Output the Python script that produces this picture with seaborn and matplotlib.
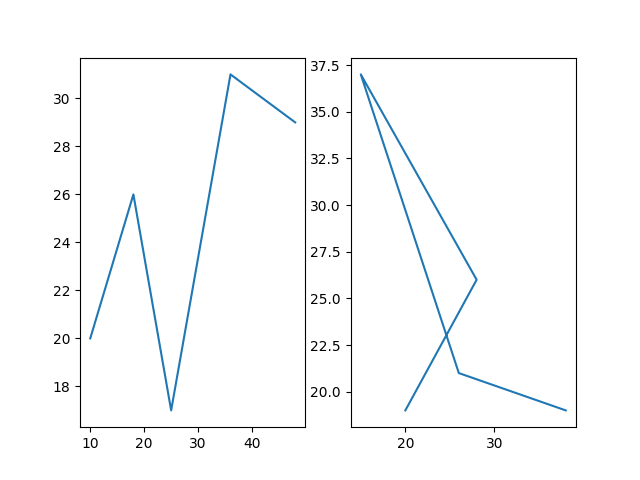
import matplotlib
matplotlib.use("Agg")
import matplotlib.pyplot as plt
import seaborn as sns

# left panel
left_x = [10, 18, 25, 36, 48]
left_y = [20, 26, 17, 31, 29]

# right panel (drawn in given order, not sorted)
right_x = [20, 28, 15, 26, 38]
right_y = [19, 26, 37, 21, 19]

fig, (ax1, ax2) = plt.subplots(1, 2, figsize=(6.4, 4.8), dpi=100)

sns.lineplot(x=left_x, y=left_y, sort=False, estimator=None, ax=ax1)
sns.lineplot(x=right_x, y=right_y, sort=False, estimator=None, ax=ax2)

plt.savefig("out.png", dpi=100)
plt.close()
